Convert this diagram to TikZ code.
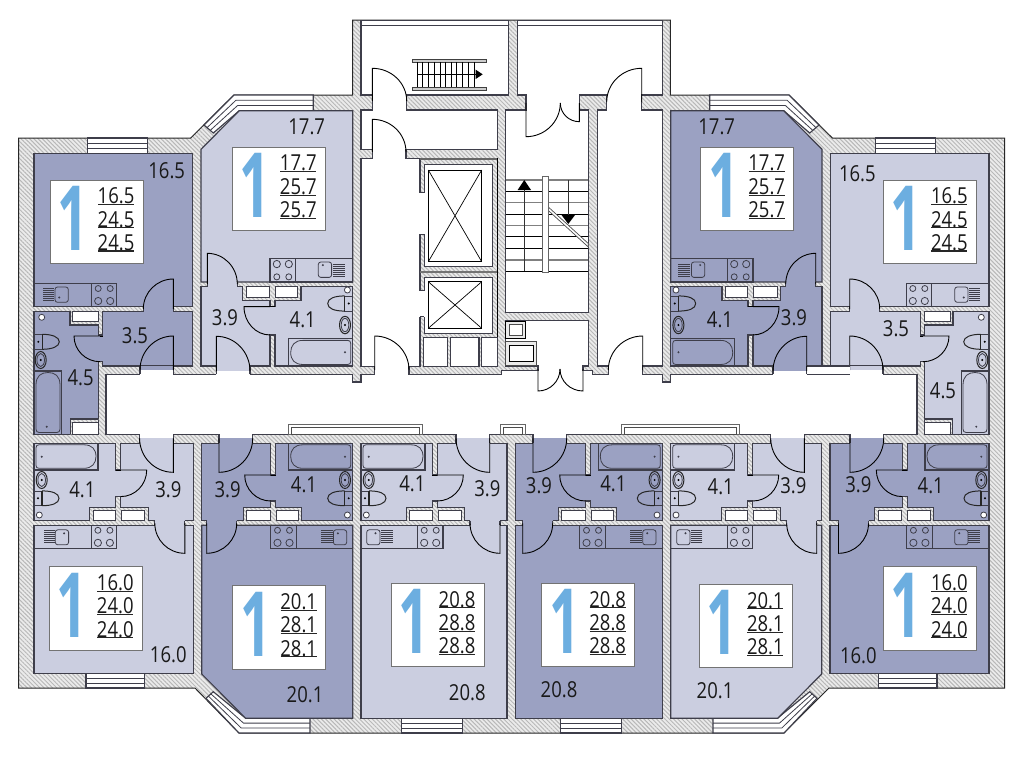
\documentclass[tikz,border=0pt]{standalone}
\usepackage{fontspec}
\setmainfont[FakeStretch=0.84]{Open Sans}
\newfontfamily\bigone[FakeStretch=0.6]{Open Sans}
\usetikzlibrary{patterns.meta}
\definecolor{lightrm}{HTML}{CBCEE0}
\definecolor{darkrm}{HTML}{9BA1C2}
\definecolor{linec}{HTML}{3E3E4A}
\definecolor{hatchc}{HTML}{B8B8B8}
\definecolor{blueone}{HTML}{6CAEE0}
\newcounter{tn}
\tikzset{
 wl/.style={draw=linec,line width=1.15pt,line join=miter},
 thin1/.style={draw=linec,line width=.8pt},
 fixt/.style={draw=black!85,line width=1pt},
 hatchfill/.style={pattern={Lines[angle=-45,distance=3pt,line width=1pt]},pattern color=hatchc},
 rl/.style={inner sep=0pt,font=\fontsize{22}{22}\selectfont,text=black!90},
 dooropen/.style={draw=black,line width=.9pt},
}
\newcommand\hatched[1]{\fill[white!92!black] #1; \fill[hatchfill] #1;}
\newcommand\mydoor[6]{%
 \pgfmathsetmacro\cax{(#3)+0.552*((#5)-(#1))}%
 \pgfmathsetmacro\cay{(#4)+0.552*((#6)-(#2))}%
 \pgfmathsetmacro\cbx{(#5)+0.552*((#3)-(#1))}%
 \pgfmathsetmacro\cby{(#6)+0.552*((#4)-(#2))}%
 \draw[dooropen] (#1,#2)--(#3,#4) .. controls (\cax,\cay) and (\cbx,\cby) .. (#5,#6);}
\newcommand\mywin[4]{% x1 x2 y1 y2
 \pgfmathsetmacro\wa{(#3)+((#4)-(#3))/3}\pgfmathsetmacro\wb{(#3)+2*((#4)-(#3))/3}%
 \filldraw[fill=white,wl] (#1,#3) rectangle (#2,#4);
 \draw[thin1] (#1,\wa)--(#2,\wa) (#1,\wb)--(#2,\wb);}
\newcommand\burners[2]{%
 \draw[thin1] (#1-6,#2-6.5) circle[radius=3pt] (#1+6,#2-6.5) circle[radius=3pt];
 \draw[thin1] (#1-6,#2+6) circle[radius=3.6pt] (#1+6,#2+6) circle[radius=3.6pt];}
\newcommand\drainer[3]{% x y-start width (lines going y+)
 \foreach \dd in {0,2,...,12}{\draw[line width=.7pt,draw=linec] (#1,#2+\dd)--(#1+#3,#2+\dd);}}
% sink: x,y top-left, dot relative
\newcommand\ksink[3]{%
 \draw[thin1,rounded corners=2.5pt] (#1,#2) rectangle (#1+13.3,#2+15);
 \fill[linec] (#1+4.5,#2+#3) circle[radius=1.1pt];}
% flat with hall+bath row next to corridor
\newcommand\aptflat[9]{%
 \begin{scope}[shift={(#1,#2)},xscale=#3,yscale=#4]
 \def\fW{#5}\def\fH{#6}\def\rc{#7}
 \pgfmathsetmacro\gmin{min(#8,#9)}\pgfmathsetmacro\gmax{max(#8,#9)}
 \filldraw[fill=\rc,wl] (0,0)--(\fH,0)--(\fH,\gmin)--(\fH+5,\gmin)--(\fH+5,0)--(\fW,0)--(\fW,77.4)--(\fH+31,77.4)--(\fH+31,64)--(\fH+5,64)--(\fH+5,\gmax)--(\fH,\gmax)--(\fH,64)--(\fH-27.4,64)--(\fH-27.4,77.4)--(0,77.4)--cycle;
 \filldraw[fill=\rc,wl] (0,82)--(\fW,82)--(\fW,\Lh)--(\chx,\Lh)--(0,\chy)--cycle;
 % ducts
 \filldraw[fill=white,thin1] (\fH-24,67.4) rectangle (\fH-.7,77.4);
 \filldraw[fill=white,thin1] (\fH+5.3,67.4) rectangle (\fH+27.6,77.4);
 % bath door
 \mydoor{\fH}{#8}{\fH-26}{#8}{\fH}{#9}
 \draw[dooropen] (\fH,#8)--(\fH+5,#8);
 % living door
 \fill[\rc] (\ld,76.9) rectangle (\ld+30,82.5);
 \draw[wl] (\ld,77.4)--(\ld,82) (\ld+30,77.4)--(\ld+30,82);
 \mydoor{\ld}{80}{\ld}{110}{\ld+30}{80}
 % entry door
 \fill[white] (\ed,-\wt-.4) rectangle (\ed+33.7,-5);
 \fill[\rc] (\ed,-5) rectangle (\ed+33.7,.5);
 \draw[wl] (\ed,-\wt)--(\ed,0) (\ed+33.7,-\wt)--(\ed+33.7,0);
 \mydoor{\ed}{-5}{\ed}{29}{\ed+33.7}{-5}
 % tub
 \draw[wl] (\fW-64,0) rectangle (\fW,26.7);
 \draw[thin1] (\fW-50,1.5)--(\fW-5,1.5) .. controls (\fW-3,1.5) and (\fW-2,2.5) .. (\fW-2,4.5)--(\fW-2,22) .. controls (\fW-2,24) and (\fW-3,25) .. (\fW-5,25)--(\fW-50,25) .. controls (\fW-58,25) and (\fW-62,20) .. (\fW-62,13.2) .. controls (\fW-62,6) and (\fW-58,1.5) .. (\fW-50,1.5)--cycle;
 \fill[linec] (\fW-7.7,13.4) circle[radius=1.1pt];
 % washbasin
 \draw[fixt] (\fW-7.7,\bsy) ellipse[x radius=5.5pt,y radius=8.5pt];
 \draw[thin1] (\fW-7.7,\bsy) ellipse[x radius=3.8pt,y radius=6.5pt];
 \fill[black] (\fW-7.7,\bsy) circle[radius=1.1pt];
 % toilet
 \begin{scope}[shift={(0,\tsh)}]
 \draw[thin1] (\fW-8,47.6) rectangle (\fW,62.4);
 \draw[fixt] (\fW-8,47.6) .. controls (\fW-18,47.6) and (\fW-25,50) .. (\fW-25,55) .. controls (\fW-25,60) and (\fW-18,62.4) .. (\fW-8,62.4);
 \draw[line width=1.4pt,black!85] (\fW-8,47.6)--(\fW-8,62.4);
 \fill[black] (\fW-4,55) circle[radius=1.1pt];
 \end{scope}
 \filldraw[fill=white,thin1] (\fW-5.3,\csy) circle[radius=3pt];
 % kitchen
 \draw[wl] (\ks,82) rectangle (\fW,105);
 \draw[wl] (\ks+25.6,82)--(\ks+25.6,105);
 \burners{\ks+12.8}{93.5}
 \ksink{\sinkx}{86.5}{\sinkdot}
 \drainer{\drainx}{87.5}{11.7}
 \end{scope}}
\newcommand\infobox[5]{% x y a b c
 \filldraw[fill=white,draw=black!55,line width=.8pt] (#1,#2) rectangle (#1+93,#2+83.5);
 \stepcounter{tn}\node[inner sep=0pt,text=blueone,font=\bigone\bfseries\fontsize{90}{90}\selectfont] (one\arabic{tn}) at (#1+23,#2+38.5) {1};
 \stepcounter{tn}\node[rl] (a\arabic{tn}) at (#1+66,#2+16) {#3};
 \stepcounter{tn}\node[rl] (b\arabic{tn}) at (#1+66,#2+39.4) {#4};
 \stepcounter{tn}\node[rl] (c\arabic{tn}) at (#1+66,#2+62.7) {#5};
 \draw[line width=1.1pt,black!85] (#1+48,#2+24.4)--(#1+84,#2+24.4) (#1+48,#2+47.8)--(#1+84,#2+47.8) (#1+48,#2+71)--(#1+84,#2+71);}
\newcommand\lab[3]{\stepcounter{tn}\node[rl] (l\arabic{tn}) at (#1,#2) {#3};}
% top outer flat + windows, in left coordinates
\newcommand\sideflat[1]{%
 \def\rc{#1}
 \filldraw[fill=\rc,wl] (34,153.3) rectangle (192.7,306.7);
 \filldraw[fill=\rc,wl] (34,311.7)--(70,311.7)--(70,325)--(98.3,325)--(98.3,335)--(102.7,335)--(102.7,311.7)--(192.7,311.7)--(192.7,366)--(102.7,366)--(102.7,361.7)--(98.3,361.7)--(98.3,434.3)--(34,434.3)--cycle;
 \filldraw[fill=white,thin1] (72.7,311.7) rectangle (98.3,321.7);
 \hatched{(70.7,419) rectangle (98.3,434.3)}
 \draw[wl] (70.7,434.3)--(70.7,419)--(98.3,419);
 \filldraw[fill=white,thin1] (72.7,422.7) rectangle (98.3,434.3);
 % doors
 \fill[\rc] (143.3,306.2) rectangle (173.3,312.2);
 \draw[wl] (143.3,306.7)--(143.3,311.7) (173.3,306.7)--(173.3,311.7);
 \mydoor{173.3}{309}{173.3}{279}{143.3}{309}
 \fill[\rc] (140,365.5) rectangle (173.3,370);
 \fill[white] (140,370) rectangle (173.3,374.8);
 \draw[wl] (140,366)--(140,374.3) (173.3,366)--(173.3,374.3);
 \mydoor{173.3}{370}{173.3}{336}{140}{370}
 \mydoor{100}{336}{74}{336}{100}{361.7}
 \draw[dooropen] (100,336)--(102.7,336);
 % kitchen
 \draw[wl] (34,283.3) rectangle (116.7,306.7);
 \draw[wl] (91.7,283.3)--(91.7,306.7);
 \burners{104.2}{295}
 \draw[thin1,rounded corners=2.5pt] (55,287) rectangle (68.3,302.3);
 \fill[linec] (59.3,297.5) circle[radius=1.1pt];
 \drainer{43.3}{288.5}{11}
 % toilet, basin, vent
 \draw[thin1] (34.3,334.3) rectangle (42.3,349.3);
 \draw[fixt] (42.3,334.3) .. controls (52,334.3) and (59.3,337) .. (59.3,341.8) .. controls (59.3,346.5) and (52,349.3) .. (42.3,349.3);
 \draw[line width=1.4pt,black!85] (42.3,334.3)--(42.3,349.3);
 \fill[black] (38.3,341.8) circle[radius=1.1pt];
 \draw[fixt] (40.7,360) ellipse[x radius=5.5pt,y radius=8.5pt];
 \draw[thin1] (40.7,360) ellipse[x radius=3.8pt,y radius=6.5pt];
 \fill[black] (40.7,360) circle[radius=1.1pt];
 \filldraw[fill=white,thin1] (41.7,317.3) circle[radius=3pt];
 % tub
 \draw[wl] (34.3,371) rectangle (61.7,434.3);
 \draw[thin1] (36,385) .. controls (36,376) and (41,372.5) .. (48,372.5) .. controls (55,372.5) and (60,376) .. (60,385)--(60,429) .. controls (60,431) and (59,432.5) .. (57,432.5)--(39,432.5) .. controls (37,432.5) and (36,431) .. (36,429)--cycle;
 \fill[linec] (46.7,426.7) circle[radius=1.1pt];
 % windows
 \mywin{87.7}{147.7}{138}{153.3}
 \mywin{86}{144.3}{673.3}{688}
 % bays
 \filldraw[fill=white,wl] (313.3,95)--(234,95)--(204,125)--(213.3,133)--(239.3,110.7)--(313.3,110.7)--cycle;
 \draw[thin1] (313.3,100.2)--(236,100.2)--(207,127.7) (313.3,105.5)--(237.6,105.5)--(210.2,130.4);
 \filldraw[fill=white,wl] (310,733)--(239,733)--(206,698.3)--(213.3,691.7)--(245.7,718.3)--(310,718.3)--cycle;
 \draw[thin1] (310,728)--(241.2,728)--(208.4,696.1) (310,723.1)--(243.5,723.1)--(210.9,693.9);
}
\newcommand\topbox[3]{% x1 x2 
 \filldraw[fill=white,draw=black!60,line width=.9pt] (#1,424.3) rectangle (#2,434.3);
 \filldraw[fill=white,draw=black!70,line width=.7pt] (#1+3,427.8) rectangle (#2-3,434.3);}
\begin{document}
\begin{tikzpicture}[x=1pt,y=-1pt]
\useasboundingbox (0,0) rectangle (1024,771);
\fill[white] (0,0) rectangle (1024,771);
% building mass
\hatched{(18.5,138)--(190.7,138)--(234,95)--(352.7,95)--(352.7,20)--(670.3,20)--(670.3,95)--(789,95)--(832.3,138)--(1004.5,138)--(1004.5,688)--(829,688)--(784,733)--(239,733)--(195,688)--(18.5,688)--cycle}
\draw[draw=black!85,line width=1pt] (18.5,138)--(190.7,138)--(234,95)--(352.7,95)--(352.7,20)--(670.3,20)--(670.3,95)--(789,95)--(832.3,138)--(1004.5,138)--(1004.5,688)--(829,688)--(784,733)--(239,733)--(195,688)--(18.5,688)--cycle;
% central free space: corridor, halls, vestibules
\filldraw[fill=white,wl] (106,374.3)--(352.7,374.3)--(352.7,382)--(361,382)--(361,374.3)--(374.7,374.3)--(374.7,366.7)--(361,366.7)--(361,158.3)--(372.3,158.3)--(372.3,149.3)--(361,149.3)--(361,110)--(372.3,110)--(372.3,95)--(361,95)--(361,25.3)--(508.3,25.3)--(508.3,95)--(406.7,95)--(406.7,110)--(497.3,110)--(497.3,149.3)--(406,149.3)--(406,158.3)--(420,158.3)--(420,366.7)--(409,366.7)--(409,374.3)--(501.7,374.3)--(501.7,370.7)--(538,370.7)--(538,366)--(505.7,366)--(505.7,320.7)--(588.3,320.7)--(588.3,366)--(583,366)--(583,370.7)--(592.3,370.7)--(592.3,374.3)--(608.3,374.3)--(608.3,366)--(597.3,366)--(597.3,110)--(606.7,110)--(606.7,95)--(579.3,95)--(579.3,110)--(588.3,110)--(588.3,312.7)--(505.7,312.7)--(505.7,110)--(526,110)--(526,95)--(517.3,95)--(517.3,25.3)--(662.3,25.3)--(662.3,95)--(641.7,95)--(641.7,110)--(662.3,110)--(662.3,366)--(642.7,366)--(642.7,374.3)--(662.3,374.3)--(662.3,382)--(670.3,382)--(670.3,374.3)--(917,374.3)--(917,434.3)--(106,434.3)--cycle;
% roof strip windows
\filldraw[fill=white,wl] (361,20.5) rectangle (508.3,25.3);
\filldraw[fill=white,wl] (517.3,20.5) rectangle (662.3,25.3);
% central doors
\mydoor{372.3}{101}{372.3}{68.3}{406.7}{101}
\mydoor{372.3}{152}{372.3}{119.3}{406}{152}
\mydoor{374.7}{370}{374.7}{336}{409}{370}
\mydoor{642.7}{370}{642.7}{336}{608.3}{370}
\mydoor{641.7}{102}{641.7}{68.3}{606.7}{102}
\mydoor{526}{103}{526}{136.7}{560.3}{103}
\mydoor{579.3}{103}{579.3}{121.7}{560.3}{103}
\mydoor{538}{369}{538}{391}{560}{369}
\mydoor{583}{369}{583}{391}{560}{369}
% outdoor stair
\filldraw[fill=black!20,draw=black!75,line width=.7pt] (412.3,59.3) rectangle (486,62);
\filldraw[fill=black!20,draw=black!75,line width=.7pt] (412.3,87.3) rectangle (486,90);
\foreach \sx in {422.7,428.3,434.3,440,445.3,451,456.7,462.3,468,474}{\draw[line width=.8pt,black] (\sx,62)--(\sx,87.3);}
\draw[line width=1.4pt,black] (417.3,62)--(417.3,87.3);
\draw[line width=.8pt,black] (417,74)--(476,74);
\fill[black] (475.7,69.7)--(475.7,79)--(482.7,74.3)--cycle;
% elevator shafts
\draw[line width=2.4pt,black!60] (420,159)--(497.3,159);
\filldraw[fill=white,wl] (424.3,164.7) rectangle (492.7,266.7);
\filldraw[fill=white,wl] (424.3,277.3) rectangle (492.7,333.3);
\fill[white] (419.3,192.7) rectangle (425,234.3);
\draw[wl] (420,192.7)--(424.3,192.7) (420,234.3)--(424.3,234.3);
\fill[white] (419.3,290.7) rectangle (425,316.7);
\draw[wl] (420,290.7)--(424.3,290.7) (420,316.7)--(424.3,316.7);
\draw[line width=1.8pt,black!55] (420,271.7)--(497.3,271.7);
\draw[line width=.8pt,black] (497.3,158)--(497.3,366);
\filldraw[fill=white,draw=black,line width=.8pt] (428.3,170) rectangle (481.7,261.7);
\filldraw[fill=white,draw=black,line width=.8pt] (428.3,281.7) rectangle (481.7,328.3);
\draw[line width=.7pt,black] (428.3,170)--(481.7,261.7) (428.3,261.7)--(481.7,170) (428.3,281.7)--(481.7,328.3) (428.3,328.3)--(481.7,281.7);
\filldraw[fill=white,wl] (423.3,337.7) rectangle (447.7,366.7);
\filldraw[fill=white,wl] (450.7,337.7) rectangle (479,366.7);
\filldraw[fill=white,wl] (481.7,337.7) rectangle (497.3,366.7);
% stair
\foreach \ty in {180,202.7,225.3,260}{\draw[line width=1.5pt,black!50] (505.7,\ty)--(588.3,\ty);}
\foreach \ty in {191.3,214,236.7,248.3,271}{\draw[line width=1pt,black] (505.7,\ty)--(588.3,\ty);}
\draw[line width=.9pt,black!80] (524.3,186)--(524.3,271) (568.3,180)--(568.3,218);
\fill[black] (524.3,180)--(517.6,190)--(531,190)--cycle;
\fill[black] (561.5,215)--(575,215)--(568.3,224)--cycle;
\filldraw[fill=white,draw=black!70,line width=.7pt] (548.3,207)--(588.3,243.5)--(588.3,247)--(548.3,210.5)--cycle;
\filldraw[fill=white,draw=black!60,line width=.8pt] (542.3,176.7) rectangle (548.3,272.7);
% vents
\filldraw[fill=black!8,draw=black,line width=1pt] (505.7,321) rectangle (525.3,338.3);
\filldraw[fill=white,draw=black!70,line width=.8pt] (509.3,324.3) rectangle (522.7,335);
\filldraw[fill=black!8,draw=black!70,line width=1pt] (505.7,341.7) rectangle (536,365);
\filldraw[fill=white,draw=black,line width=.8pt] (509,345) rectangle (533.3,361.7);
% corridor windows
\topbox{288.3}{422.3}{}
\topbox{500}{525}{}
\topbox{621.7}{739.3}{}
% side flats
\sideflat{darkrm}
\begin{scope}[shift={(1023,0)},xscale=-1]
\sideflat{lightrm}
\end{scope}
\mywin{401.3}{462.3}{718.3}{733}
\mywin{560.7}{621.7}{718.3}{733}
% white gap right of corridor
\fill[white] (806.7,366.6) rectangle (850,373.8);
\draw[wl] (806.7,366)--(850,366);
% top flats
\def\wt{8.1}\def\bsy{40}\def\tsh{6}\def\csy{74.2}\def\Lh{249.2}\def\chx{38.3}\def\chy{211.5}
\def\ld{6.3}\def\ed{15.3}\def\ks{69}\def\sinkx{117.3}\def\drainx{132}\def\sinkdot{12}
\aptflat{201}{366}{1}{-1.0245}{151.7}{69}{lightrm}{57.9}{30.3}
\aptflat{822}{366}{-1}{-1.0245}{151.3}{69}{darkrm}{57.9}{30.3}
% bottom flats
\def\wt{8.9}\def\bsy{36.7}\def\tsh{0}\def\csy{71.7}\def\sinkdot{3.5}
% far left and far right
\def\Lh{230}\def\chx{0}\def\chy{230}\def\ld{8.5}\def\ed{20}\def\ks{76.6}\def\sinkx{124.7}\def\drainx{138}
\aptflat{193.3}{443.3}{-1}{1}{159.3}{72.6}{lightrm}{26.7}{53.3}
\aptflat{830}{443.3}{1}{1}{159}{72.3}{darkrm}{26.7}{53.3}
% with bay
\def\Lh{275}\def\chx{44}\def\chy{230.7}\def\ld{5}\def\ed{17.3}\def\ks{69}\def\sinkx{131.7}\def\drainx{119.3}
\aptflat{201.7}{443.3}{1}{1}{151}{69}{darkrm}{31.7}{57.7}
\aptflat{821.7}{443.3}{-1}{1}{151}{69}{lightrm}{31.7}{57.7}
% central pair
\def\chx{0}\def\chy{275}\def\ld{7}\def\ks{64}\def\sinkx{127}\def\drainx{114.3}
\aptflat{507}{443.3}{-1}{1}{146}{69.7}{lightrm}{31.7}{57.7}
\aptflat{515.7}{443.3}{1}{1}{146.6}{70}{darkrm}{31.7}{57.7}
% info boxes
\infobox{50}{180}{16.5}{24.5}{24.5}
\infobox{232.3}{147.3}{17.7}{25.7}{25.7}
\infobox{700.7}{147.3}{17.7}{25.7}{25.7}
\infobox{883.3}{180}{16.5}{24.5}{24.5}
\infobox{49.3}{566.7}{16.0}{24.0}{24.0}
\infobox{232.7}{585.7}{20.1}{28.1}{28.1}
\infobox{391}{583.3}{20.8}{28.8}{28.8}
\infobox{541.7}{583.3}{20.8}{28.8}{28.8}
\infobox{699.3}{584.3}{20.1}{28.1}{28.1}
\infobox{883.3}{566.7}{16.0}{24.0}{24.0}
% room labels
\lab{166.7}{171}{16.5}\lab{306.7}{127.3}{17.7}\lab{135}{336}{3.5}\lab{225}{318}{3.9}\lab{302.7}{320}{4.1}\lab{80.7}{378}{4.5}
\lab{716.7}{127.3}{17.7}\lab{857.3}{173.3}{16.5}\lab{896}{328.3}{3.5}\lab{794}{318}{3.9}\lab{720}{319.3}{4.1}\lab{943}{391}{4.5}
\lab{82.3}{489.3}{4.1}\lab{168.3}{490}{3.9}\lab{168.3}{654.3}{16.0}\lab{227.7}{489.3}{3.9}\lab{304}{485}{4.1}\lab{305}{695}{20.1}
\lab{412.3}{484}{4.1}\lab{487.3}{488.3}{3.9}\lab{539}{486}{3.9}\lab{613.3}{484}{4.1}\lab{467.3}{692.7}{20.8}\lab{559}{690}{20.8}
\lab{720.7}{486.7}{4.1}\lab{793.3}{485.7}{3.9}\lab{858.3}{485}{3.9}\lab{930.7}{486}{4.1}\lab{858.3}{655.7}{16.0}\lab{715}{691}{20.1}
\end{tikzpicture}
\end{document}
